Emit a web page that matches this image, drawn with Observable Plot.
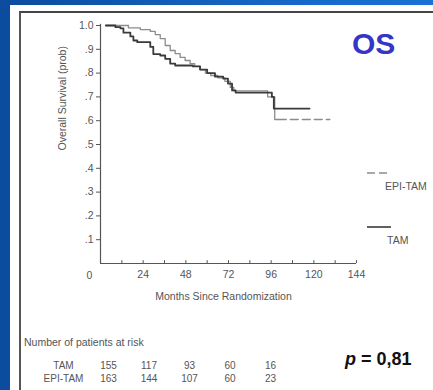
<!DOCTYPE html>
<html>
<head>
<meta charset="utf-8">
<script src="https://cdn.jsdelivr.net/npm/d3@7"></script>
<script src="https://cdn.jsdelivr.net/npm/@observablehq/plot@0.6"></script>
<style>
  html, body { margin: 0; padding: 0; }
  body { width: 433px; height: 390px; overflow: hidden; position: relative;
         background: #0b4c9e; font-family: "Liberation Sans", Arial, sans-serif; }
  .abs { position: absolute; }
  #topband { left: 0; top: 0; width: 433px; height: 5px;
             background: linear-gradient(to right, #0b4c9e, #1466c4 60%, #1a72d4); }
  #panel { left: 10px; top: 5px; width: 423px; height: 385px; background: #fff; }
  #frame { left: 19px; top: 11px; width: 414px; height: 379px;
           border-left: 2px solid #555; border-top: 2px solid #444; box-sizing: border-box; }
  #os { left: 352px; top: 29px; font: bold 30px "Liberation Sans", Arial, sans-serif; color: #3535c6; line-height: 1; }
  #pval { left: 345px; top: 350px; font: bold 18px "Liberation Sans", Arial, sans-serif; color: #111; line-height: 1; white-space: nowrap; }
  .lg { font-size: 10.5px; color: #555; line-height: 1; white-space: nowrap; }
  #riskTitle { left: 24px; top: 337px; font-size: 10.5px; color: #555; line-height: 1; white-space: nowrap; }
</style>
</head>
<body>
<div id="topband" class="abs"></div>
<div id="panel" class="abs"></div>
<div id="frame" class="abs"></div>
<div id="chart" class="abs" style="left:0;top:0"></div>
<div id="os" class="abs">OS</div>
<div id="legend"></div>
<div id="riskTitle" class="abs">Number of patients at risk</div>
<div id="risk" class="abs" style="left:0;top:355px"></div>
<div id="pval" class="abs"><i>p</i> = 0,81</div>
<script>
// ---- data ----
const tamMonths = [3, 8.4, 11.2, 12.9, 16.8, 18.5, 20.7, 28, 29.7, 33.6, 36.4, 39.2, 42, 52, 56, 60, 64.4, 69, 71.7, 74, 76, 96.4, 97.5, 117.6];
const tamSurv   = [1.0, 0.993, 0.988, 0.97, 0.954, 0.937, 0.93, 0.91, 0.88, 0.874, 0.86, 0.84, 0.832, 0.828, 0.815, 0.80, 0.785, 0.777, 0.756, 0.727, 0.718, 0.70, 0.651, 0.651];
const epiMonths = [3, 15.7, 22.4, 28, 30.8, 33.6, 36.4, 39.2, 42, 44.8, 47.6, 50.4, 53, 56, 59, 62, 66, 70, 73, 75, 94, 98, 100];
const epiSurv   = [1.0, 0.99, 0.983, 0.975, 0.962, 0.945, 0.916, 0.895, 0.882, 0.866, 0.853, 0.84, 0.828, 0.815, 0.80, 0.79, 0.78, 0.765, 0.74, 0.725, 0.70, 0.605, 0.605];
const epiTailMonths = [100, 129];
const epiTailSurv   = [0.605, 0.605];
const yTicks = [0.1, 0.2, 0.3, 0.4, 0.5, 0.6, 0.7, 0.8, 0.9, 1.0];
const xLabelTicks = [24, 48, 72, 96, 120, 144];
const xMinorTicks = [12, 24, 36, 48, 60, 72, 84, 96, 108, 120, 132, 144];
const seriesNames = ["EPI-TAM", "TAM"];
const riskMonths = [0, 24, 48, 72, 96];
const riskTAM = [155, 117, 93, 60, 16];
const riskEPI = [163, 144, 107, 60, 23];

const tam = tamMonths.map((m, i) => ({m, p: tamSurv[i]}));
const epi = epiMonths.map((m, i) => ({m, p: epiSurv[i]}));
const epiTail = epiTailMonths.map((m, i) => ({m, p: epiTailSurv[i]}));

const ink = "#555";
const font = '"Liberation Sans", Arial, sans-serif';
const plot = Plot.plot({
  width: 433, height: 390,
  marginLeft: 100, marginRight: 77, marginTop: 25, marginBottom: 127,
  style: {background: "transparent", fontFamily: font, fontSize: "10.5px", color: ink, overflow: "visible"},
  x: {domain: [0, 144]},
  y: {domain: [0, 1]},
  marks: [
    Plot.axisY({ticks: yTicks, tickSize: 4, tickPadding: 3, label: null,
      tickFormat: d => d === 1 ? "1.0" : "." + Math.round(d * 10), stroke: ink}),
    Plot.axisX({ticks: xLabelTicks, tickSize: 0, tickPadding: 7, label: null, tickFormat: d3.format("d")}),
    Plot.ruleX(xMinorTicks, {y1: 0, y2: 0.012, stroke: ink}),
    Plot.ruleX([0], {y1: 0, y2: 1.005, stroke: ink, strokeWidth: 1.2}),
    Plot.ruleY([0], {x1: 0, x2: 144, stroke: ink, strokeWidth: 1.2}),
    Plot.text([0], {x: 0, y: 0, text: d => String(d), dx: -11, dy: 12, fill: ink}),
    Plot.line(epi, {x: "m", y: "p", curve: "step-after", stroke: "#8c8c8c", strokeWidth: 1.3}),
    Plot.line(epiTail, {x: "m", y: "p", stroke: "#8c8c8c", strokeWidth: 1.3, strokeDasharray: "8,4"}),
    Plot.line(tam, {x: "m", y: "p", curve: "step-after", stroke: "#3a3a3a", strokeWidth: 1.8}),
    Plot.text(["Overall Survival (prob)"], {frameAnchor: "left", dx: -38, dy: 6, rotate: -90, fill: ink, fontSize: 10.5}),
    Plot.text(["Months Since Randomization"], {frameAnchor: "bottom", dx: -5, dy: 36, fill: ink, fontSize: 10.5})
  ]
});
document.getElementById("chart").appendChild(plot);

// legend (line samples + labels), placed to the right of the plot frame
const legend = document.getElementById("legend");
const legendItems = [
  {name: seriesNames[0], top: 173, left: 385, stroke: "#8c8c8c", width: 1.3, dash: "8,4"},
  {name: seriesNames[1], top: 227, left: 387, stroke: "#3a3a3a", width: 1.6, dash: null}
];
legendItems.forEach(it => {
  const s = d3.create("svg").attr("width", 26).attr("height", 4)
    .style("position", "absolute").style("left", "367px").style("top", (it.top - 2) + "px");
  s.append("line").attr("x1", 0).attr("x2", 24).attr("y1", 2).attr("y2", 2)
    .attr("stroke", it.stroke).attr("stroke-width", it.width)
    .attr("stroke-dasharray", it.dash);
  legend.appendChild(s.node());
  const t = document.createElement("div");
  t.className = "abs lg";
  t.style.left = it.left + "px";
  t.style.top = (it.top + 8) + "px";
  t.textContent = it.name;
  legend.appendChild(t);
});

// risk table
const riskRows = [];
riskMonths.forEach((m, i) => {
  riskRows.push({row: "TAM", m, n: riskTAM[i]});
  riskRows.push({row: "EPI-TAM", m, n: riskEPI[i]});
});
const risk = Plot.plot({
  width: 433, height: 30, margin: 0,
  style: {background: "transparent", fontFamily: font, fontSize: "10px", color: ink, overflow: "visible"},
  x: {domain: [0, 96], range: [108, 270], axis: null},
  y: {type: "point", domain: ["TAM", "EPI-TAM"], range: [10, 23], padding: 0, axis: null},
  marks: [
    Plot.text(riskRows, {x: "m", y: "row", text: d => String(d.n), fill: ink}),
    Plot.text(["TAM", "EPI-TAM"], {y: d => d, text: d => d, frameAnchor: "left", dx: 63, textAnchor: "middle", fill: ink})
  ]
});
document.getElementById("risk").appendChild(risk);
</script>
</body>
</html>
